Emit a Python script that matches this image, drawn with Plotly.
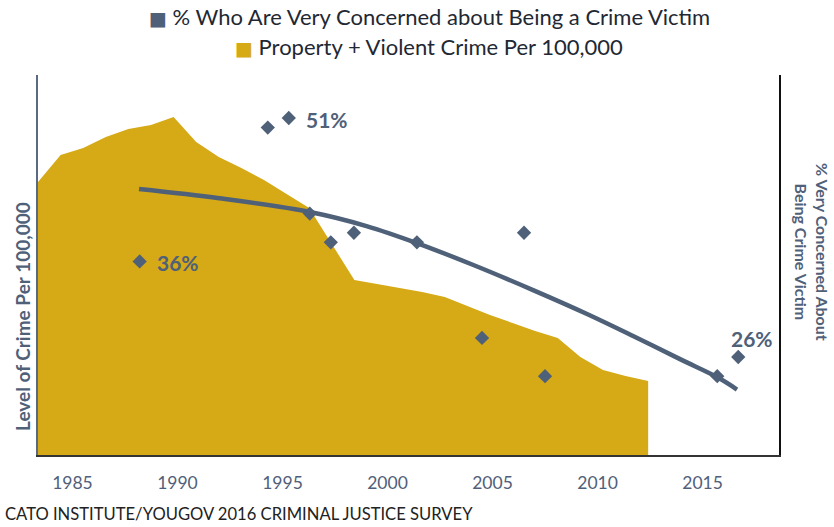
import plotly.graph_objects as go

# ---- data ----
crime_years = list(range(1985, 2013))
crime_values = [5230, 5500, 5570, 5680, 5760, 5800, 5880, 5630, 5480, 5370,
                5250, 5110, 4970, 4610, 4250, 4210, 4170, 4130, 4080, 3990,
                3900, 3820, 3740, 3670, 3480, 3350, 3290, 3240]

survey_years = [1988.2, 1994.3, 1995.3, 1996.3, 1997.3, 1998.4, 2001.4,
                2004.5, 2006.5, 2007.5, 2015.7, 2016.7]
survey_pct = [36, 50, 51, 41, 38, 39, 38, 28, 39, 24, 24, 26]

trend_years = [1988.17, 1992.0, 1996.31, 1999.0, 2001.40, 2004.0, 2006.93,
               2009.5, 2011.69, 2014.0, 2015.69, 2016.64]
trend_pct = [43.57, 42.6, 41.17, 39.7, 37.92, 35.7, 33.0,
             30.5, 28.2, 25.7, 23.9, 22.6]

label_points = [(1988.2, 36, "36%"), (1995.3, 51, "51%"), (2016.7, 26, "26%")]
tick_years = [1985, 1990, 1995, 2000, 2005, 2010, 2015]

legend_names = ["% Who Are Very Concerned about Being a Crime Victim",
                "Property + Violent Crime Per 100,000"]

SLATE = "#4F6079"
GOLD = "#D6A916"
FONT = "Lato, 'Open Sans', sans-serif"

W, H = 834, 527
L, R, T, B = 38, 55, 75, 72


def px_to_paper(px, py):
    return (px - L) / (W - L - R), (H - B - py) / (H - T - B)


fig = go.Figure()

# area on main x/y pair
fig.add_trace(go.Scatter(
    x=crime_years, y=crime_values, xaxis="x", yaxis="y",
    mode="lines", fill="tozeroy", fillcolor=GOLD,
    line=dict(width=0, color=GOLD), showlegend=False, hoverinfo="skip",
    name=legend_names[1]))

# trend + survey points on x2/y2
fig.add_trace(go.Scatter(
    x=trend_years, y=trend_pct, xaxis="x2", yaxis="y2",
    mode="lines", line=dict(color=SLATE, width=4.5, shape="spline", smoothing=1.0),
    showlegend=False, hoverinfo="skip"))

fig.add_trace(go.Scatter(
    x=survey_years, y=survey_pct, xaxis="x2", yaxis="y2",
    mode="markers", marker=dict(symbol="diamond", size=11, color=SLATE),
    showlegend=False, name=legend_names[0]))

for (xv, yv, txt) in label_points:
    if txt == "26%":
        xs, ys = -9, 19
    else:
        xs, ys = 15, -1
    fig.add_annotation(x=xv, y=yv, xref="x2", yref="y2", text="<b>%s</b>" % txt,
                       showarrow=False, xanchor="left", yanchor="middle",
                       xshift=xs, yshift=ys,
                       font=dict(family=FONT, size=21, color=SLATE))

# legend (as centered text lines with coloured squares)
for name, col, py in [(legend_names[0], SLATE, 16), (legend_names[1], GOLD, 46)]:
    ax, ay = px_to_paper(429, py)
    fig.add_annotation(x=ax, y=ay, xref="paper", yref="paper",
                       text='<span style="color:%s;font-family:DejaVu Sans;font-size:19px">■</span> %s' % (col, name),
                       showarrow=False, xanchor="center", yanchor="middle",
                       font=dict(family=FONT, size=22, color="#222833"))

ax, ay = px_to_paper(22, 317)
fig.add_annotation(x=ax, y=ay, xref="paper", yref="paper", text="<b>Level of Crime Per 100,000</b>",
                   showarrow=False, textangle=-90, xanchor="center", yanchor="middle",
                   font=dict(family=FONT, size=19, color=SLATE))

ax, ay = px_to_paper(3, 514)
fig.add_annotation(x=ax, y=ay, xref="paper", yref="paper",
                   text="CATO INSTITUTE/YOUGOV 2016 CRIMINAL JUSTICE SURVEY",
                   showarrow=False, xanchor="left", yanchor="middle",
                   font=dict(family=FONT, size=16.6, color="#222222"))

ax, ay = px_to_paper(812, 252)
fig.add_annotation(x=ax, y=ay, xref="paper", yref="paper",
                   text="<b>% Very Concerned About<br>Being Crime Victim</b>",
                   showarrow=False, textangle=90, xanchor="center", yanchor="middle",
                   font=dict(family=FONT, size=16, color=SLATE))

fig.update_layout(
    width=W, height=H,
    margin=dict(l=L, r=R, t=T, b=B, pad=0, autoexpand=False),
    paper_bgcolor="white", plot_bgcolor="white",
    font=dict(family=FONT, color=SLATE),
    showlegend=False,
    xaxis=dict(range=[1985, 2017.79], showticklabels=False, showgrid=False,
               zeroline=False, showline=True, linecolor="#333333", linewidth=1.5, ticks=""),
    xaxis2=dict(range=[1983.36, 2018.64], overlaying="x", anchor="y2", side="bottom",
                tickvals=tick_years, ticktext=[str(t) for t in tick_years],
                showgrid=False, zeroline=False, showline=False,
                ticks="outside", ticklen=12, tickcolor="rgba(0,0,0,0)",
                tickfont=dict(family=FONT, size=17.5, color="#50607A")),
    yaxis=dict(range=[2500, 6300], showticklabels=False, showgrid=False, zeroline=False,
               showline=True, linecolor="#5A6A80", linewidth=1.5, ticks=""),
    yaxis2=dict(range=[15.75, 55.5], overlaying="y", anchor="x2", side="right",
                showticklabels=False, showgrid=False, zeroline=False, showline=True,
                linecolor="#111111", linewidth=1.5, ticks=""),
)

fig.write_html("out.html", config={"displayModeBar": False},
               post_script="document.body.style.margin='0px';document.body.style.padding='0px';")
